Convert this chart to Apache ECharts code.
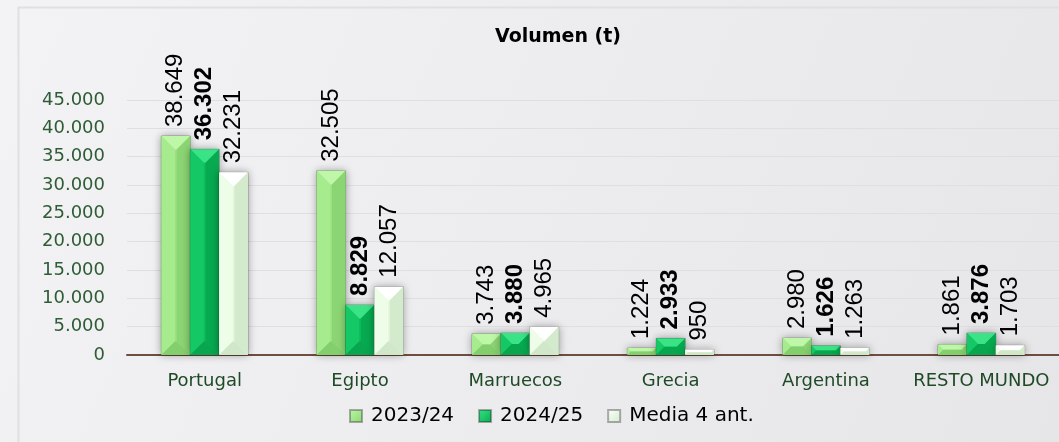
<!DOCTYPE html>
<html>
<head>
<meta charset="utf-8">
<script src="https://cdn.jsdelivr.net/npm/echarts@6/dist/echarts.min.js"></script>
<style>
  html, body { margin: 0; padding: 0; }
  #chart { width: 1059px; height: 442px; }
</style>
</head>
<body>
<div id="chart"></div>
<script>
// Export volumes (t) by destination
const categories = ['Portugal', 'Egipto', 'Marruecos', 'Grecia', 'Argentina', 'RESTO MUNDO'];
const vol2324 = [38649, 32505, 3743, 1224, 2980, 1861];
const vol2425 = [36302, 8829, 3880, 2933, 1626, 3876];
const media4 = [32231, 12057, 4965, 950, 1263, 1703];
const seriesNames = ['2023/24', '2024/25', 'Media 4 ant.'];
const yMin = 0, yMax = 45000, yStep = 5000;

// Face colours for the bevelled bars: [front, top, left, right, bottom]
const palettes = [
  ['#9be282', '#bff7a8', '#a6ec8e', '#8cd574', '#84cf6d'],
  ['#0cbd5b', '#3ae486', '#14c965', '#07aa50', '#08a64e'],
  ['#e4f8dc', '#ffffff', '#eefde8', '#d3ebcc', '#d0e8c9']
];

function fmt(v) {
  return String(v).replace(/\B(?=(\d{3})+(?!\d))/g, '.');
}

function makeRender(idx) {
  const pal = palettes[idx];
  return function (params, api) {
    const cat = api.value(0), val = api.value(1);
    const base = api.coord([cat, 0]);
    const top = api.coord([cat, val]);
    const band = api.size([1, 0])[0];
    const w = band * 0.186;
    const cx = base[0] + (idx - 1) * w;
    const x0 = cx - w / 2, x1 = cx + w / 2;
    const y0 = top[1], yb = base[1];
    const h = yb - y0;
    const d = Math.min(w * 0.47, h / 2);
    const poly = (pts, c) => ({ type: 'polygon', shape: { points: pts }, style: { fill: c } });
    return {
      type: 'group',
      children: [
        { type: 'rect', shape: { x: x0, y: y0, width: w, height: h },
          style: { fill: pal[0], stroke: 'rgba(0,0,0,0.28)', lineWidth: 1,
                   shadowBlur: 8, shadowColor: 'rgba(0,0,0,0.35)' } },
        { type: 'rect', shape: { x: x0 + d, y: y0 + d, width: Math.max(0, w - 2 * d), height: Math.max(0, h - 2 * d) },
          style: { fill: pal[0] } },
        poly([[x0, y0], [x1, y0], [x1 - d, y0 + d], [x0 + d, y0 + d]], pal[1]),
        poly([[x0, y0], [x0 + d, y0 + d], [x0 + d, yb - d], [x0, yb]], pal[2]),
        poly([[x1, y0], [x1, yb], [x1 - d, yb - d], [x1 - d, y0 + d]], pal[3]),
        poly([[x0, yb], [x0 + d, yb - d], [x1 - d, yb - d], [x1, yb]], pal[4]),
        { type: 'text', x: cx, y: y0 - 9, rotation: Math.PI / 2,
          style: { text: fmt(val), fill: '#000',
                   font: (idx === 1 ? 'bold ' : '') + '24px "Liberation Sans", Arial, sans-serif',
                   align: 'left', verticalAlign: 'middle' } }
      ]
    };
  };
}

const allData = [vol2324, vol2425, media4];
const series = allData.map((arr, i) => ({
  name: seriesNames[i],
  type: 'custom',
  renderItem: makeRender(i),
  data: arr.map((v, k) => [k, v]),
  itemStyle: {
    color: new echarts.graphic.LinearGradient(0, 0, 1, 1, [
      { offset: 0, color: palettes[i][1] },
      { offset: 1, color: palettes[i][3] }
    ]),
    borderColor: 'rgba(0,0,0,0.3)', borderWidth: 1
  },
  clip: false
}));

const chart = echarts.init(document.getElementById('chart'), null, { renderer: 'canvas' });
chart.setOption({
  animation: false,
  backgroundColor: new echarts.graphic.LinearGradient(0, 0, 1, 1, [
    { offset: 0, color: '#f3f3f5' },
    { offset: 1, color: '#e6e6e9' }
  ]),
  graphic: [{
    type: 'rect', left: 16, top: 5, z: -1,
    shape: { width: 1100, height: 500 },
    style: { fill: 'none', stroke: '#e0e0e3', lineWidth: 2 }
  }],
  title: {
    text: 'Volumen (t)', left: 490, top: 23,
    textStyle: { fontFamily: 'DejaVu Sans', fontWeight: 'bold', fontSize: 19, color: '#000' }
  },
  legend: {
    data: seriesNames, bottom: 11, left: 344,
    icon: 'rect', itemWidth: 12, itemHeight: 12, itemGap: 24,
    textStyle: { fontFamily: 'DejaVu Sans', fontSize: 20, color: '#000', padding: [0, 0, 0, 4] }
  },
  grid: { left: 127, top: 100, width: 936, height: 255, containLabel: false },
  xAxis: {
    type: 'category', data: categories,
    axisLine: { lineStyle: { color: '#6e4e40', width: 2 } },
    axisTick: { show: false },
    axisLabel: { interval: 0, color: '#1f4a26', fontFamily: 'DejaVu Sans', fontSize: 18, margin: 17 }
  },
  yAxis: {
    type: 'value', min: yMin, max: yMax, interval: yStep,
    axisLine: { show: false }, axisTick: { show: false },
    splitLine: { lineStyle: { color: '#dfdfe2', width: 1 } },
    axisLabel: { color: '#2e5c35', fontFamily: 'DejaVu Sans', fontSize: 18, margin: 22, formatter: fmt }
  },
  series: series
});
</script>
</body>
</html>
